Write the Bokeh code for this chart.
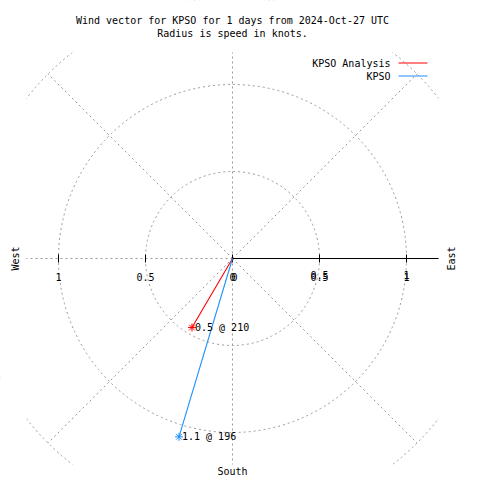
import math
from bokeh.plotting import figure
from bokeh.models import Range1d, ColumnDataSource
from bokeh.core.properties import value
from bokeh.embed import file_html
from bokeh.resources import INLINE

# ---- data ----
series = ["KPSO Analysis", "KPSO"]
speeds = [0.46, 1.07]          # knots
directions = [210.4, 196.7]    # degrees (from north, clockwise)
point_labels = ["0.5 @ 210", "1.1 @ 196"]
colors = ["#ff0000", "#1e90ff"]
ring_values = [0.5, 1.0, 1.5]
spoke_angles = [0, 45, 90, 135, 180, 225, 270, 315]
tick_values = [-1.0, -0.5, 0.0, 0.5, 1.0]
tick_labels = ["1", "0.5", "0", "0.5", "1"]
r_tick_values = [0.0, 0.5, 1.0]
r_tick_labels = ["0", "0.5", "1"]
title_lines = ["Wind vector for KPSO for 1 days from 2024-Oct-27 UTC",
               "Radius is speed in knots."]

# ---- layout (pixels) ----
W = H = 480
CX, CY = 232.0, 258.0   # pole position on the canvas
PX = 174.0              # pixels per knot
HALF = 206.0            # half size of the polar box in pixels
FONT = "DejaVu Sans Mono"
FS = "10px"
GRID = "#999999"

def dx(px):
    return (px - CX) / PX

def dy(py):
    return (CY - py) / PX

p = figure(width=W, height=H, output_backend="svg", toolbar_location=None,
           x_range=Range1d(dx(0), dx(W)), y_range=Range1d(dy(H), dy(0)),
           x_axis_type=None, y_axis_type=None, min_border=0)
p.outline_line_color = None
p.grid.visible = False
p.background_fill_color = "white"
p.border_fill_color = "white"

# polar grid rings
p.circle(x=[0]*len(ring_values), y=[0]*len(ring_values), radius=ring_values,
         fill_color=None, line_color=GRID, line_dash="2 3", line_width=1)
# spokes
rmax = max(ring_values)
sx1 = [rmax * math.cos(math.radians(a)) for a in spoke_angles]
sy1 = [rmax * math.sin(math.radians(a)) for a in spoke_angles]
p.segment(x0=[0]*len(sx1), y0=[0]*len(sy1), x1=sx1, y1=sy1,
          line_color=GRID, line_dash="2 3", line_width=1)

# white mask outside the square polar box (clipping like gnuplot's plot border)
b = HALF / PX
lo_x, hi_x, lo_y, hi_y = dx(-50), dx(W + 50), dy(H + 50), dy(-50)
p.quad(left=[lo_x, lo_x, lo_x, b], right=[-b, hi_x, hi_x, hi_x],
       bottom=[lo_y, b, lo_y, lo_y], top=[hi_y, hi_y, -b, hi_y],
       fill_color="white", line_color=None)

# radial axis (solid black to the east)
p.segment(x0=[0], y0=[0], x1=[b], y1=[0], line_color="black", line_width=1.2)
tk = 4.0 / PX
p.segment(x0=tick_values, y0=[-tk]*len(tick_values), x1=tick_values, y1=[tk]*len(tick_values),
          line_color="black", line_width=1)

# tick labels
ty = -18.0 / PX
p.text(x=tick_values, y=[ty]*len(tick_values), text=tick_labels,
       text_font=value(FONT), text_font_size=value(FS), text_align="center",
       text_baseline="middle", text_color="black")
p.text(x=r_tick_values, y=[ty]*len(r_tick_values), text=r_tick_labels,
       text_font=value(FONT), text_font_size=value(FS), text_align="center",
       text_baseline="middle", text_color="black",
       x_offset=[2 if v == 0 else 0 for v in r_tick_values],
       y_offset=[0 if v == 0 else -2 for v in r_tick_values])

# data vectors
xs = [s * math.sin(math.radians(d)) for s, d in zip(speeds, directions)]
ys = [s * math.cos(math.radians(d)) for s, d in zip(speeds, directions)]
src = ColumnDataSource(dict(x=xs, y=ys, x0=[0]*len(xs), y0=[0]*len(ys),
                            c=colors, lab=point_labels))
p.segment(x0="x0", y0="y0", x1="x", y1="y", line_color="c", line_width=1.1, source=src)
p.scatter(x="x", y="y", marker="asterisk", size=8, line_color="c", line_width=1, source=src)
p.text(x="x", y="y", text="lab", text_font=value(FONT), text_font_size=value(FS),
       text_align="left", text_baseline="middle", x_offset=3, text_color="black", source=src)

# legend (gnuplot style: text then line sample)
leg_y = [dy(62.5), dy(75.5)]
p.text(x=[dx(390)]*2, y=leg_y, text=series, text_font=value(FONT), text_font_size=value(FS),
       text_align="right", text_baseline="middle", text_color="black")
p.segment(x0=[dx(398)]*2, y0=leg_y, x1=[dx(427)]*2, y1=leg_y,
          line_color=colors, line_width=1.2)

# compass labels
p.text(x=[0], y=[dy(471)], text=["South"], text_font=value(FONT), text_font_size=value(FS),
       text_align="center", text_baseline="middle", text_color="black")
p.text(x=[dx(15), dx(451)], y=[0, 0], text=["West", "East"], text_font=value(FONT),
       text_font_size=value(FS), text_align="center", text_baseline="middle",
       angle=math.pi / 2, text_color="black")

# title
p.text(x=[0, 0], y=[dy(20), dy(33)], text=title_lines, text_font=value(FONT),
       text_font_size=value(FS), text_align="center", text_baseline="middle", text_color="black")

open("out.html", "w").write(file_html(p, INLINE))
